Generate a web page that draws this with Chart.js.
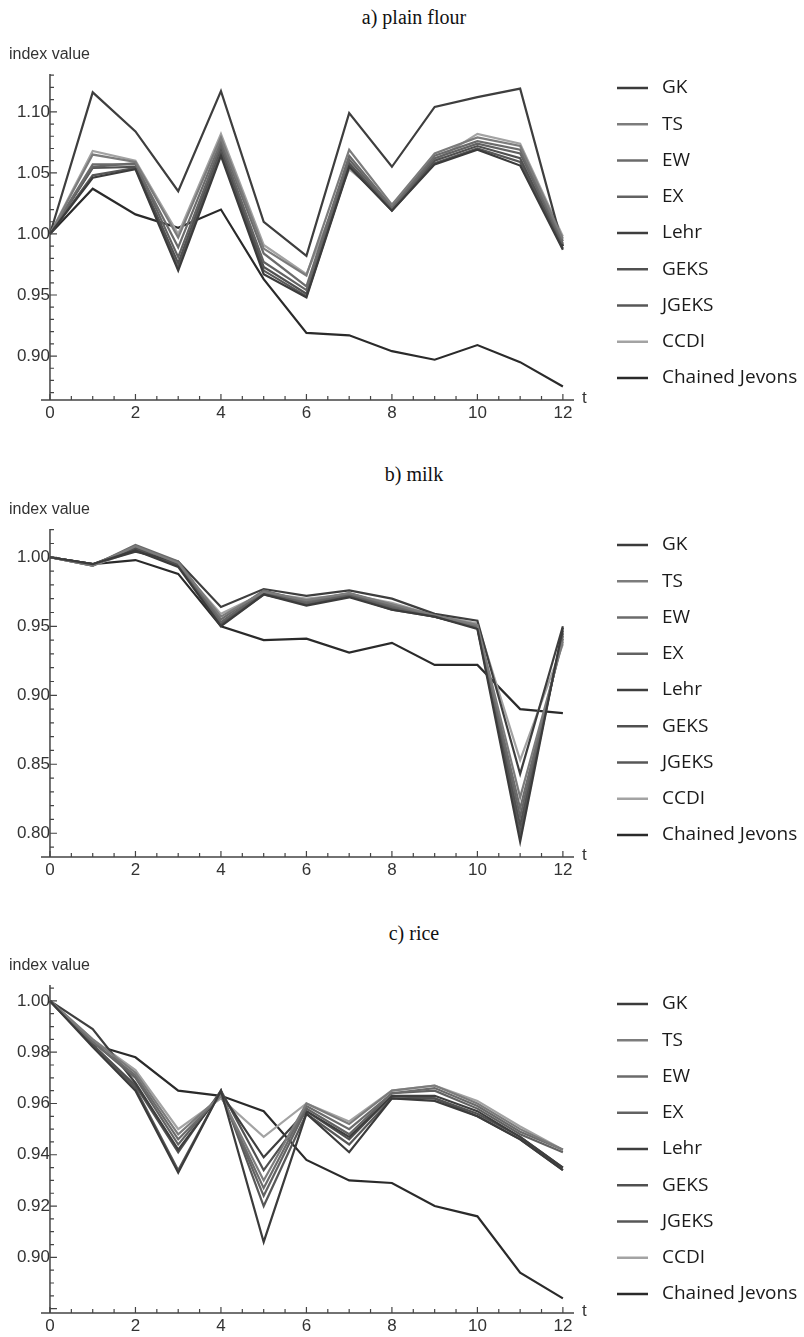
<!DOCTYPE html>
<html>
<head>
<meta charset="utf-8">
<title>Price indices: plain flour, milk, rice</title>
<script src="https://cdn.jsdelivr.net/npm/chart.js@4.4.1/dist/chart.umd.min.js"></script>
<style>
  body { margin: 0; background: #fff; width: 804px; height: 1337px; position: relative; overflow: hidden; }
  .head { position: absolute; left: 0; width: 828px; text-align: center; font: 20px "Liberation Serif", serif; color: #111; line-height: 20px; }
  .panel { position: absolute; left: 0; width: 804px; }
</style>
</head>
<body>
<div class="head" style="top:7px">a) plain flour</div>
<div class="panel" style="top:30px"><canvas id="flour" width="804" height="394"></canvas></div>
<div class="head" style="top:464px">b) milk</div>
<div class="panel" style="top:485px"><canvas id="milk" width="804" height="396"></canvas></div>
<div class="head" style="top:923px">c) rice</div>
<div class="panel" style="top:941px"><canvas id="rice" width="804" height="396"></canvas></div>

<script>
const periods = [0, 1, 2, 3, 4, 5, 6, 7, 8, 9, 10, 11, 12];
const indexNames = ['GK', 'TS', 'EW', 'EX', 'Lehr', 'GEKS', 'JGEKS', 'CCDI', 'Chained Jevons'];
const xTicks = [0, 2, 4, 6, 8, 10, 12];
const flourTicks = [0.90, 0.95, 1.00, 1.05, 1.10];
const milkTicks = [0.80, 0.85, 0.90, 0.95, 1.00];
const riceTicks = [0.90, 0.92, 0.94, 0.96, 0.98, 1.00];

// a) plain flour
const flourGK    = [1.000, 1.046, 1.053, 0.970, 1.064, 0.967, 0.948, 1.055, 1.019, 1.057, 1.069, 1.056, 0.987];
const flourTS    = [1.000, 1.065, 1.059, 0.997, 1.079, 0.988, 0.966, 1.069, 1.024, 1.066, 1.079, 1.072, 0.996];
const flourEW    = [1.000, 1.057, 1.057, 0.989, 1.076, 0.984, 0.957, 1.064, 1.022, 1.064, 1.076, 1.069, 0.994];
const flourEX    = [1.000, 1.055, 1.058, 0.981, 1.073, 0.977, 0.954, 1.061, 1.021, 1.062, 1.074, 1.066, 0.992];
const flourLehr  = [1.000, 1.116, 1.084, 1.035, 1.117, 1.010, 0.982, 1.099, 1.055, 1.104, 1.112, 1.119, 0.990];
const flourGEKS  = [1.000, 1.054, 1.055, 0.976, 1.071, 0.973, 0.951, 1.058, 1.020, 1.060, 1.072, 1.062, 0.990];
const flourJGEKS = [1.000, 1.048, 1.054, 0.972, 1.067, 0.970, 0.949, 1.056, 1.019, 1.058, 1.070, 1.059, 0.988];
const flourCCDI  = [1.000, 1.068, 1.060, 1.000, 1.082, 0.991, 0.967, 1.053, 1.024, 1.060, 1.082, 1.074, 0.998];
const flourCJ    = [1.000, 1.037, 1.016, 1.005, 1.020, 0.963, 0.919, 0.917, 0.904, 0.897, 0.909, 0.895, 0.875];

// b) milk
const milkGK    = [1.000, 0.995, 1.005, 0.993, 0.950, 0.973, 0.965, 0.971, 0.962, 0.957, 0.948, 0.794, 0.949];
const milkTS    = [1.000, 0.994, 1.008, 0.996, 0.957, 0.975, 0.969, 0.974, 0.966, 0.958, 0.951, 0.826, 0.939];
const milkEW    = [1.000, 0.994, 1.009, 0.997, 0.955, 0.976, 0.968, 0.974, 0.965, 0.958, 0.950, 0.818, 0.941];
const milkEX    = [1.000, 0.994, 1.008, 0.996, 0.953, 0.975, 0.967, 0.973, 0.964, 0.957, 0.950, 0.812, 0.943];
const milkLehr  = [1.000, 0.995, 1.004, 0.997, 0.964, 0.977, 0.972, 0.976, 0.970, 0.959, 0.954, 0.843, 0.950];
const milkGEKS  = [1.000, 0.995, 1.007, 0.995, 0.952, 0.974, 0.966, 0.972, 0.963, 0.957, 0.949, 0.806, 0.945];
const milkJGEKS = [1.000, 0.995, 1.006, 0.994, 0.951, 0.973, 0.966, 0.972, 0.962, 0.957, 0.949, 0.800, 0.947];
const milkCCDI  = [1.000, 0.994, 1.005, 0.994, 0.959, 0.974, 0.970, 0.973, 0.967, 0.958, 0.952, 0.853, 0.937];
const milkCJ    = [1.000, 0.995, 0.998, 0.988, 0.950, 0.940, 0.941, 0.931, 0.938, 0.922, 0.922, 0.890, 0.887];

// c) rice
const riceGK    = [1.000, 0.982, 0.965, 0.933, 0.965, 0.906, 0.956, 0.941, 0.962, 0.961, 0.955, 0.946, 0.934];
const riceTS    = [1.000, 0.985, 0.972, 0.948, 0.963, 0.930, 0.960, 0.952, 0.965, 0.967, 0.960, 0.950, 0.942];
const riceEW    = [1.000, 0.984, 0.971, 0.946, 0.963, 0.927, 0.959, 0.950, 0.964, 0.966, 0.959, 0.949, 0.942];
const riceEX    = [1.000, 0.984, 0.970, 0.944, 0.964, 0.924, 0.958, 0.948, 0.964, 0.965, 0.958, 0.948, 0.941];
const riceLehr  = [1.000, 0.989, 0.968, 0.942, 0.964, 0.939, 0.957, 0.947, 0.963, 0.963, 0.957, 0.947, 0.935];
const riceGEKS  = [1.000, 0.983, 0.967, 0.941, 0.965, 0.934, 0.957, 0.946, 0.963, 0.962, 0.956, 0.947, 0.935];
const riceJGEKS = [1.000, 0.983, 0.966, 0.934, 0.965, 0.920, 0.956, 0.944, 0.962, 0.962, 0.955, 0.946, 0.934];
const riceCCDI  = [1.000, 0.985, 0.973, 0.950, 0.962, 0.947, 0.960, 0.953, 0.965, 0.967, 0.961, 0.951, 0.942];
const riceCJ    = [1.000, 0.983, 0.978, 0.965, 0.963, 0.957, 0.938, 0.930, 0.929, 0.920, 0.916, 0.894, 0.884];

// grey shades, one per index, same order as indexNames
const lineColors = ['#3b3b3b', '#7c7c7c', '#6b6b6b', '#626262', '#3e3e3e', '#505050', '#575757', '#a3a3a3', '#2a2a2a'];

const tickFont = { family: '"Liberation Sans", Arial, sans-serif', size: 17 };
const tickColor = '#333';

// Mathematica-style frame: axes crossing at t = 0, inward ticks, "index value" / "t" labels, legend on the right
const axesPlugin = {
  id: 'mathAxes',
  afterDraw(chart, args, opts) {
    const { ctx, chartArea: area, scales: { x, y } } = chart;
    const x0 = x.getPixelForValue(0);
    ctx.save();
    ctx.strokeStyle = '#444';
    ctx.lineWidth = 1.5;
    ctx.beginPath();
    ctx.moveTo(area.left, area.bottom);
    ctx.lineTo(area.right, area.bottom);
    ctx.moveTo(x0, area.top);
    ctx.lineTo(x0, area.bottom);
    ctx.stroke();

    ctx.lineWidth = 1.2;
    ctx.beginPath();
    for (let k = 0; k * opts.xMinor <= x.max + 1e-9; k++) {
      const v = k * opts.xMinor;
      const px = x.getPixelForValue(v);
      const major = Math.abs(v / 2 - Math.round(v / 2)) < 1e-6;
      ctx.moveTo(px, area.bottom);
      ctx.lineTo(px, area.bottom - (major ? 6 : 4));
    }
    for (let k = Math.ceil(y.min / opts.yMinor - 1e-9); k * opts.yMinor <= y.max + 1e-9; k++) {
      const v = k * opts.yMinor;
      const py = y.getPixelForValue(v);
      if (py > area.bottom - 1) continue;
      const r = v / opts.yMajor;
      const major = Math.abs(r - Math.round(r)) < 1e-6;
      ctx.moveTo(x0, py);
      ctx.lineTo(x0 + (major ? 7 : 4), py);
    }
    ctx.stroke();

    ctx.fillStyle = '#333';
    ctx.font = '16px "Liberation Sans", Arial, sans-serif';
    ctx.textBaseline = 'middle';
    ctx.textAlign = 'left';
    ctx.fillText('index value', 9, area.top - 19);
    ctx.font = '17px "Liberation Sans", Arial, sans-serif';
    ctx.fillText('t', area.right + 8, area.bottom - 2);

    // legend
    ctx.font = '19px "Open Sans", sans-serif';
    ctx.fillStyle = '#1a1a1a';
    chart.data.datasets.forEach((ds, i) => {
      const ly = area.top + opts.legendTop + i * 36.25;
      ctx.strokeStyle = ds.borderColor;
      ctx.lineWidth = 2.5;
      ctx.beginPath();
      ctx.moveTo(area.right + 43, ly);
      ctx.lineTo(area.right + 74, ly);
      ctx.stroke();
      ctx.fillText(ds.label, area.right + 88, ly);
    });
    ctx.restore();
  }
};

function makeChart(id, series, yTicks, yMin, yMax, yMajor, yMinor, legendTop) {
  new Chart(document.getElementById(id), {
    type: 'line',
    data: {
      labels: periods,
      datasets: series.map((values, i) => ({
        label: indexNames[i],
        data: values.map((v, j) => ({ x: periods[j], y: v })),
        borderColor: lineColors[i],
        backgroundColor: lineColors[i],
        borderWidth: 2.2,
        pointRadius: 0,
        tension: 0,
        fill: false
      }))
    },
    options: {
      responsive: false,
      devicePixelRatio: 1,
      animation: false,
      events: [],
      layout: { padding: { top: 44, left: 41, right: 230, bottom: 0 } },
      plugins: {
        legend: { display: false },
        tooltip: { enabled: false },
        mathAxes: { xMinor: 0.5, yMajor, yMinor, legendTop }
      },
      scales: {
        x: {
          type: 'linear',
          position: 'bottom',
          min: -0.21,
          max: 12.26,
          afterBuildTicks: (s) => { s.ticks = xTicks.map(v => ({ value: v })); },
          afterFit: (s) => { s.height = 24; },
          ticks: { font: tickFont, color: tickColor, padding: 3, callback: v => String(v) },
          grid: { display: false, drawTicks: false },
          border: { display: false }
        },
        y: {
          type: 'linear',
          position: { x: 0 },
          min: yMin,
          max: yMax,
          afterBuildTicks: (s) => { s.ticks = yTicks.map(v => ({ value: v })); },
          ticks: { font: tickFont, color: tickColor, padding: 4, callback: v => v.toFixed(2) },
          grid: { display: false, drawTicks: false },
          border: { display: false }
        }
      }
    },
    plugins: [axesPlugin]
  });
}

makeChart('flour',
  [flourGK, flourTS, flourEW, flourEX, flourLehr, flourGEKS, flourJGEKS, flourCCDI, flourCJ],
  flourTicks, 0.864, 1.131, 0.05, 0.01, 14);
makeChart('milk',
  [milkGK, milkTS, milkEW, milkEX, milkLehr, milkGEKS, milkJGEKS, milkCCDI, milkCJ],
  milkTicks, 0.7828, 1.0205, 0.05, 0.01, 16);
makeChart('rice',
  [riceGK, riceTS, riceEW, riceEX, riceLehr, riceGEKS, riceJGEKS, riceCCDI, riceCJ],
  riceTicks, 0.8783, 1.0062, 0.02, 0.005, 19);
</script>
</body>
</html>
